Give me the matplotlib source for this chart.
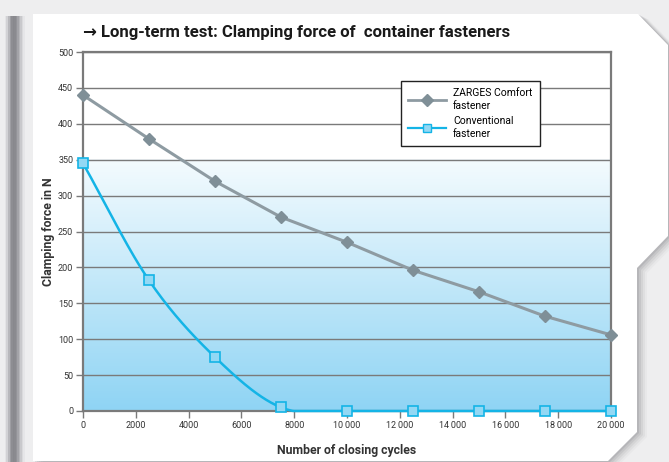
import numpy as np
import matplotlib
matplotlib.use("Agg")
import matplotlib.pyplot as plt
from matplotlib.patches import Polygon, Rectangle
from matplotlib.colors import LinearSegmentedColormap
from matplotlib.lines import Line2D

cycles = [0, 2500, 5000, 7500, 10000, 12500, 15000, 17500, 20000]
zarges = [440, 379, 320, 270, 235, 196, 166, 132, 106]
conventional = [345, 182, 75, 5, 0, 0, 0, 0, 0]
series_names = ["ZARGES Comfort\nfastener", "Conventional\nfastener"]
xticks = [0, 2000, 4000, 6000, 8000, 10000, 12000, 14000, 16000, 18000, 20000]
xtick_labels = ["0", "2000", "4000", "6000", "8000", "10\u2009000", "12\u2009000",
                "14\u2009000", "16\u2009000", "18\u2009000", "20\u2009000"]
yticks = list(range(0, 501, 50))

W, H = 669, 462
fig = plt.figure(figsize=(W / 100, H / 100), dpi=100)
fig.patch.set_facecolor("#eeeeef")

def px(pts):
    return [(x / W, 1 - y / H) for x, y in pts]

# left dark stripe (soft)
stripe_cols = ["#e4e4e6", "#d2d2d5", "#b8b8bc", "#9d9da2", "#8d8d92", "#88888d", "#8a8a8f",
               "#939398", "#a3a3a8", "#b6b6ba", "#c9c9cc", "#dadadc", "#e6e6e8"]
for i, c in enumerate(stripe_cols):
    fig.patches.append(Rectangle((5/W + i*1.5/W, 0), 1.6/W, 1 - 16/H, transform=fig.transFigure,
                                 facecolor=c, edgecolor="none", zorder=0))

card = [(33, 14), (638, 14), (668, 45), (668, 236), (637, 268), (637, 432), (608, 461), (33, 461)]
# shadow
for k, (dx, al) in enumerate([(10, 0.04), (8, 0.06), (6, 0.08), (4, 0.11), (2, 0.14)]):
    sh = [(x + dx, y + dx * 0.5) for x, y in card]
    fig.patches.append(Polygon(px(sh), closed=True, transform=fig.transFigure,
                               facecolor="#555560", alpha=al, edgecolor="none", zorder=1))
fig.patches.append(Polygon(px(card), closed=True, transform=fig.transFigure,
                           facecolor="white", edgecolor="none", zorder=2))

ax = fig.add_axes([83 / W, (H - 411) / H, (611 - 83) / W, (411 - 52) / H])
ax.set_zorder(3)
ax.patch.set_facecolor("white")
ax.set_xlim(0, 20000)
ax.set_ylim(0, 500)

cmap = LinearSegmentedColormap.from_list("g", ["#8fd4f4", "#f4fbfe"])
grad = np.linspace(0, 1, 256).reshape(-1, 1)
ax.imshow(grad, extent=[0, 20000, 0, 350], origin="lower", aspect="auto", cmap=cmap, zorder=0)

for yv in yticks[1:]:
    ax.axhline(yv, color="#7a7a7a", lw=1.0, zorder=1)

def catmull(xs, ys, n=40):
    xs = np.asarray(xs, float); ys = np.asarray(ys, float)
    P = np.column_stack([xs, ys])
    P = np.vstack([P[0] - (P[1] - P[0]), P, P[-1] + (P[-1] - P[-2])])
    out = []
    for i in range(1, len(P) - 2):
        p0, p1, p2, p3 = P[i-1], P[i], P[i+1], P[i+2]
        t = np.linspace(0, 1, n, endpoint=False)[:, None]
        pt = 0.5 * ((2*p1) + (-p0 + p2)*t + (2*p0 - 5*p1 + 4*p2 - p3)*t**2 + (-p0 + 3*p1 - 3*p2 + p3)*t**3)
        out.append(pt)
    out.append(P[-2][None, :])
    out = np.vstack(out)
    return out[:, 0], np.maximum(out[:, 1], 0)

ax.plot(cycles, zarges, color="#8e9ba2", lw=2.2, zorder=4, clip_on=False)
ax.plot(cycles, zarges, ls="none", marker="D", ms=6.5, mfc="#7f8f97", mec="#7f8f97", zorder=5, clip_on=False)
sx, sy = catmull(cycles, conventional)
ax.plot(sx, sy, color="#14b4e6", lw=1.8, zorder=4, clip_on=False)
ax.plot(cycles, conventional, ls="none", marker="s", ms=6.5, mfc="#93d8f4", mec="#14b4e6", mew=1.2,
        zorder=5, clip_on=False)

for s in ax.spines.values():
    s.set_color("#7a7a7a"); s.set_linewidth(1.6)

font = ["Roboto", "DejaVu Sans"]
ax.set_yticks(yticks)
ax.set_yticklabels([str(v) for v in yticks], family=font, fontsize=6.5, color="#333333")
ax.set_xticks(xticks)
ax.set_xticklabels(xtick_labels, family=font, fontsize=6.5, color="#333333")
ax.tick_params(axis="both", direction="out", length=5, width=1, color="#7a7a7a", pad=2)
ax.set_xlabel("Number of closing cycles", family=font, fontsize=8.8, fontweight="bold",
              color="#333333", labelpad=10)
ax.set_ylabel("Clamping force in N", family=font, fontsize=8.8, fontweight="bold",
              color="#333333", labelpad=2)

fig.text(83 / W, 1 - 33 / H, "\u2192 Long-term test: Clamping force of  container fasteners",
         family=font, fontsize=12, fontweight="bold", color="#1a1a1a", va="center", ha="left")

handles = [Line2D([], [], color="#8e9ba2", lw=2, marker="D", ms=6, mfc="#7f8f97", mec="#7f8f97"),
           Line2D([], [], color="#14b4e6", lw=1.6, marker="s", ms=6, mfc="#93d8f4", mec="#14b4e6")]
leg = ax.legend(handles, series_names, loc="upper left", bbox_to_anchor=((401 - 83) / 528, 1 - (81 - 52) / 359),
                prop={"family": font, "size": 7.5}, frameon=True, fancybox=False,
                edgecolor="#222222", framealpha=1, handlelength=3.6, borderpad=0.7,
                labelspacing=0.5, handletextpad=0.7, borderaxespad=0)
for t in leg.get_texts():
    t.set_linespacing(1.35)
leg.get_frame().set_linewidth(1.0)
leg.set_zorder(10)

fig.savefig("out.png", dpi=100, facecolor=fig.get_facecolor())
